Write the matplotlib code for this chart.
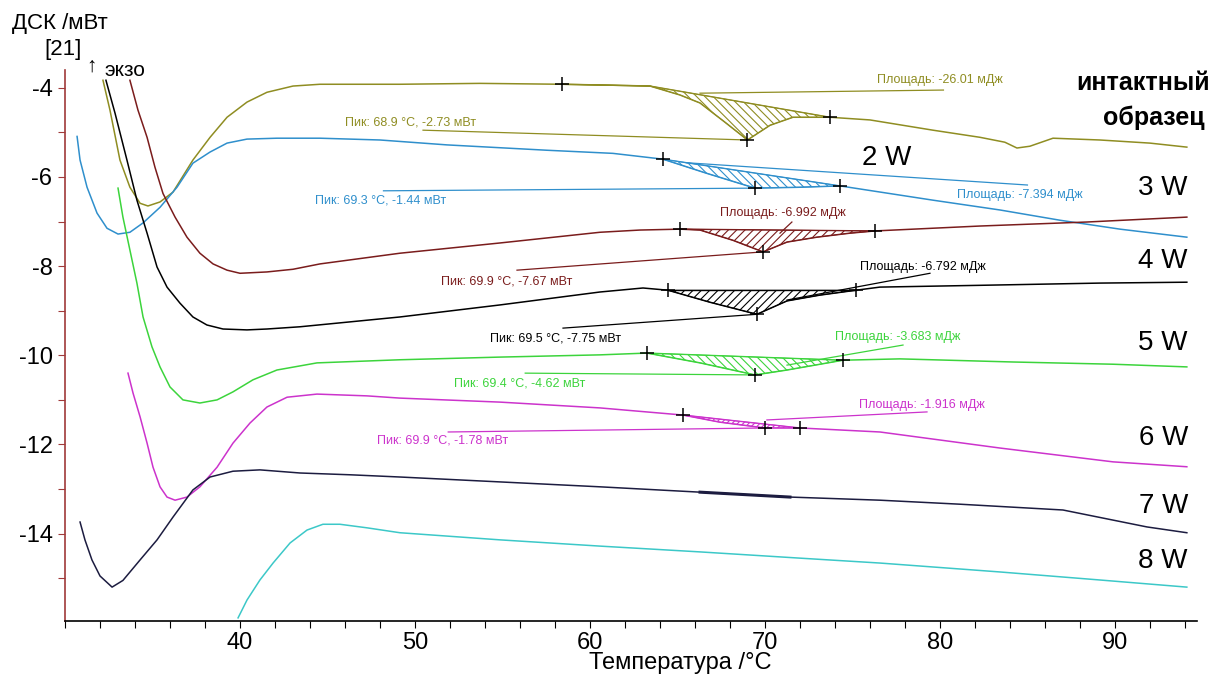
import matplotlib
matplotlib.use('Agg')
import matplotlib.pyplot as plt
from matplotlib.ticker import MultipleLocator

plt.rcParams['font.family'] = ['Liberation Sans', 'DejaVu Sans']
plt.rcParams['axes.unicode_minus'] = False
plt.rcParams['hatch.linewidth'] = 0.8

# ── DSC curves (temperature °C, heat flow mW) ───────────────────────────────
T_INT = [32.17, 32.57, 33.14, 33.71, 34.29, 34.74, 35.43, 36.17, 37.31, 38.29,
         39.26, 40.40, 41.54, 43.03, 44.57, 49.14, 53.71, 58.40, 61.14, 63.43,
         65.14, 66.29, 67.71, 69.00, 70.29, 71.60, 73.71, 76.00, 79.60, 82.29,
         83.71, 84.40, 85.14, 86.46, 89.14, 92.00, 94.11]
Y_INT = [-3.83, -4.50, -5.62, -6.23, -6.59, -6.65, -6.56, -6.34, -5.62, -5.11,
         -4.66, -4.32, -4.10, -3.96, -3.92, -3.92, -3.90, -3.92, -3.94, -3.96,
         -4.16, -4.34, -4.77, -5.17, -4.84, -4.66, -4.66, -4.72, -4.95, -5.11,
         -5.22, -5.35, -5.31, -5.13, -5.17, -5.24, -5.33]

T_2W = [30.69, 30.86, 31.26, 31.83, 32.40, 33.03, 33.71, 34.46, 35.43, 36.40,
        37.31, 38.29, 39.26, 40.40, 42.11, 44.57, 48.00, 51.83, 57.54, 61.31,
        64.17, 66.69, 69.43, 72.00, 74.29, 79.60, 83.43, 86.86, 90.29, 94.11]
Y_2W = [-5.09, -5.62, -6.23, -6.81, -7.15, -7.28, -7.24, -7.03, -6.68, -6.23,
        -5.69, -5.44, -5.24, -5.15, -5.13, -5.13, -5.17, -5.28, -5.40, -5.47,
        -5.60, -5.92, -6.25, -6.23, -6.20, -6.52, -6.74, -6.97, -7.17, -7.35]

T_3W = [33.71, 34.17, 34.69, 35.14, 35.60, 36.29, 36.97, 37.71, 38.46, 39.26,
        40.00, 41.54, 43.03, 44.57, 49.14, 54.86, 60.57, 62.86, 65.14, 66.29,
        68.17, 69.89, 71.26, 72.97, 74.86, 76.29, 82.29, 88.40, 94.11]
Y_3W = [-3.83, -4.50, -5.11, -5.78, -6.37, -6.90, -7.35, -7.71, -7.95, -8.09,
        -8.16, -8.13, -8.07, -7.95, -7.71, -7.48, -7.24, -7.19, -7.17, -7.19,
        -7.42, -7.68, -7.46, -7.35, -7.26, -7.21, -7.10, -7.01, -6.90]

T_4W = [32.34, 32.86, 33.54, 34.11, 34.69, 35.26, 35.83, 36.57, 37.31, 38.11,
        39.03, 40.40, 41.54, 43.43, 46.29, 49.14, 54.86, 60.57, 63.03, 64.46,
        66.86, 69.54, 71.26, 73.14, 75.20, 76.57, 82.29, 89.14, 94.11]
Y_4W = [-3.83, -4.57, -5.62, -6.52, -7.26, -8.02, -8.47, -8.83, -9.14, -9.32,
        -9.41, -9.43, -9.41, -9.36, -9.25, -9.14, -8.87, -8.58, -8.49, -8.54,
        -8.81, -9.08, -8.78, -8.65, -8.54, -8.47, -8.43, -8.38, -8.36]

T_5W = [33.03, 33.31, 33.71, 34.11, 34.46, 34.97, 35.43, 36.00, 36.74, 37.71,
        38.69, 39.60, 40.74, 42.11, 44.40, 49.14, 54.86, 60.57, 63.26, 66.29,
        69.43, 71.26, 74.46, 77.71, 84.17, 89.89, 94.11]
Y_5W = [-6.25, -6.90, -7.64, -8.38, -9.14, -9.81, -10.26, -10.71, -11.00, -11.07,
        -11.00, -10.82, -10.55, -10.33, -10.17, -10.10, -10.04, -9.99, -9.95, -10.17,
        -10.44, -10.33, -10.11, -10.08, -10.15, -10.20, -10.26]

T_6W = [33.60, 33.89, 34.29, 34.69, 35.03, 35.43, 35.83, 36.29, 36.97, 37.71,
        38.69, 39.60, 40.57, 41.54, 42.69, 44.40, 47.26, 49.14, 54.86, 60.57,
        65.31, 67.43, 70.00, 72.00, 76.57, 83.43, 89.89, 94.11]
Y_6W = [-10.40, -10.85, -11.38, -11.97, -12.51, -12.95, -13.18, -13.25, -13.18, -12.95,
        -12.51, -11.97, -11.52, -11.16, -10.94, -10.87, -10.91, -10.96, -11.05, -11.18,
        -11.34, -11.50, -11.63, -11.63, -11.72, -12.08, -12.39, -12.50]

T_7W = [30.86, 31.14, 31.54, 32.00, 32.69, 33.31, 34.29, 35.26, 36.17, 37.31,
        38.29, 39.60, 41.14, 43.43, 46.29, 49.14, 54.86, 60.57, 66.29, 71.43,
        76.57, 81.14, 87.03, 91.83, 94.11]
Y_7W = [-13.74, -14.14, -14.59, -14.95, -15.20, -15.05, -14.59, -14.14, -13.63, -13.02,
        -12.73, -12.60, -12.57, -12.64, -12.68, -12.73, -12.84, -12.95, -13.07, -13.18,
        -13.25, -13.34, -13.47, -13.85, -13.98]

T_8W = [39.89, 40.40, 41.14, 41.89, 42.86, 43.83, 44.74, 45.71, 47.26, 49.14,
        54.86, 60.57, 66.29, 72.00, 76.57, 83.43, 89.14, 94.11]
Y_8W = [-15.89, -15.49, -15.04, -14.66, -14.21, -13.92, -13.79, -13.79, -13.87, -13.98,
        -14.14, -14.28, -14.41, -14.55, -14.66, -14.86, -15.04, -15.20]

# peak evaluation points: start, peak, end
PK_T_INT, PK_Y_INT = [58.40, 69.00, 73.71], [-3.92, -5.17, -4.66]
PK_T_2W, PK_Y_2W = [64.17, 69.43, 74.29], [-5.60, -6.25, -6.20]
PK_T_3W, PK_Y_3W = [65.14, 69.89, 76.29], [-7.17, -7.68, -7.21]
PK_T_4W, PK_Y_4W = [64.46, 69.54, 75.20], [-8.54, -9.08, -8.54]
PK_T_5W, PK_Y_5W = [63.26, 69.43, 74.46], [-9.95, -10.44, -10.11]
PK_T_6W, PK_Y_6W = [65.31, 70.00, 72.00], [-11.34, -11.63, -11.63]

# sigmoid-like baseline of the intact sample
BL_T_INT, BL_Y_INT = [58.40, 63.43, 73.71], [-3.92, -3.96, -4.66]

PEAK_TXT = ['Пик: 68.9 °C, -2.73 мВт', 'Пик: 69.3 °C, -1.44 мВт',
            'Пик: 69.9 °C, -7.67 мВт', 'Пик: 69.5 °C, -7.75 мВт',
            'Пик: 69.4 °C, -4.62 мВт', 'Пик: 69.9 °C, -1.78 мВт']
AREA_TXT = ['Площадь: -26.01 мДж', 'Площадь: -7.394 мДж', 'Площадь: -6.992 мДж',
            'Площадь: -6.792 мДж', 'Площадь: -3.683 мДж', 'Площадь: -1.916 мДж']
NAMES = ['2 W', '3 W', '4 W', '5 W', '6 W', '7 W', '8 W']

# ── Colours ──────────────────────────────────────────────────────────────────
C_INT = '#8f8d22'
C_2W = '#2f8fcc'
C_3W = '#7a1c1c'
C_4W = '#000000'
C_5W = '#3cd43c'
C_6W = '#cc33cc'
C_7W = '#1c1c40'
C_8W = '#3cc8c8'
AX_RED = '#a03a3a'

W, H = 1213, 679
fig = plt.figure(figsize=(W / 100, H / 100), dpi=100)
fig.patch.set_facecolor('white')
ax = fig.add_axes([65 / W, 1 - 621 / H, 1132 / W, 551 / H])
ax.set_xlim(30, 94.69)
ax.set_ylim(-15.96, -3.60)

curves = [(T_INT, Y_INT, C_INT), (T_2W, Y_2W, C_2W), (T_3W, Y_3W, C_3W),
          (T_4W, Y_4W, C_4W), (T_5W, Y_5W, C_5W), (T_6W, Y_6W, C_6W),
          (T_7W, Y_7W, C_7W), (T_8W, Y_8W, C_8W)]
for t, y, c in curves:
    ax.plot(t, y, color=c, lw=1.1, zorder=3)

# small thickening on the 7 W trace around 70 °C
sel = [(a, b) for a, b in zip(T_7W, Y_7W) if 66 <= a <= 72]
ax.plot([p[0] for p in sel], [p[1] for p in sel], color=C_7W, lw=2.2, zorder=3)

# ── Peak areas, markers, leader lines and labels ───────────────────────────
peaks = [
    (T_INT, Y_INT, PK_T_INT, PK_Y_INT, BL_T_INT, BL_Y_INT, C_INT, '\\\\\\\\'),
    (T_2W, Y_2W, PK_T_2W, PK_Y_2W, None, None, C_2W, '\\\\\\\\'),
    (T_3W, Y_3W, PK_T_3W, PK_Y_3W, None, None, C_3W, '////'),
    (T_4W, Y_4W, PK_T_4W, PK_Y_4W, None, None, C_4W, '////'),
    (T_5W, Y_5W, PK_T_5W, PK_Y_5W, None, None, C_5W, '\\\\\\\\'),
    (T_6W, Y_6W, PK_T_6W, PK_Y_6W, None, None, C_6W, '//////'),
]
# label anchors (left x, y), peak-leader start, area-leader start/end
peak_lbl = [(46.0, -4.77), (44.29, -6.52), (51.5, -8.34),
            (54.29, -9.62), (52.23, -10.63), (47.83, -11.92)]
peak_lead = [(50.46, -4.95), (48.2, -6.31), (55.83, -8.09),
             (58.46, -9.39), (56.3, -10.40), (51.9, -11.72)]
area_lbl = [(76.4, -3.83), (81.0, -6.41), (67.43, -6.81),
            (75.43, -8.03), (74.0, -9.59), (75.37, -11.12)]
area_lead = [((66.29, -4.12), (80.2, -4.05)), ((65.5, -5.68), (85.0, -6.18)),
             ((70.86, -7.26), (71.54, -7.01)), ((71.26, -8.76), (79.43, -8.16)),
             ((71.26, -10.22), (77.89, -9.77)), ((70.11, -11.45), (79.26, -11.27))]

for i, (t, y, pt, py, bt, by, c, hatch) in enumerate(peaks):
    if bt is None:
        bt, by = [pt[0], pt[2]], [py[0], py[2]]
    seg = [(a, b) for a, b in zip(t, y) if pt[0] <= a <= pt[2]]
    poly_x = [p[0] for p in seg] + bt[::-1]
    poly_y = [p[1] for p in seg] + by[::-1]
    ax.fill(poly_x, poly_y, facecolor='none', edgecolor=c, hatch=hatch,
            lw=0.6, zorder=2)
    ax.plot(bt, by, color=c, lw=1.0, zorder=3)
    ax.plot(pt, py, ls='none', marker='+', ms=10, mew=1.1, color='black', zorder=5)
    # peak leader + label
    lx, ly = peak_lead[i]
    ax.plot([lx, pt[1]], [ly, py[1]], color=c, lw=0.9, zorder=3)
    ax.text(*peak_lbl[i], PEAK_TXT[i], color=c, fontsize=9, ha='left', va='center')
    # area leader + label
    (ax0, ay0), (ax1, ay1) = area_lead[i]
    ax.plot([ax0, ax1], [ay0, ay1], color=c, lw=0.9, zorder=3)
    ax.text(*area_lbl[i], AREA_TXT[i], color=c, fontsize=9, ha='left', va='center')

# ── Curve names on the right ────────────────────────────────────────────────
ax.text(95.43, -4.05, 'интактный', fontsize=18, fontweight='bold', ha='right',
        va='baseline', clip_on=False)
ax.text(95.15, -4.84, 'образец', fontsize=18, fontweight='bold', ha='right',
        va='baseline', clip_on=False)
ax.text(75.54, -5.73, NAMES[0], fontsize=20, ha='left', va='baseline')
name_y = [-6.41, -8.05, -9.88, -12.02, -13.54, -14.78]
for nm, yy in zip(NAMES[1:], name_y):
    ax.text(94.17, yy, nm, fontsize=20, ha='right', va='baseline', clip_on=False)

# ── Axes styling ─────────────────────────────────────────────────────────────
for s in ('top', 'right'):
    ax.spines[s].set_visible(False)
ax.spines['left'].set_color(AX_RED)
ax.spines['left'].set_linewidth(1.2)
ax.spines['bottom'].set_linewidth(1.2)

ax.set_xticks([40, 50, 60, 70, 80, 90])
ax.xaxis.set_minor_locator(MultipleLocator(2))
ax.set_yticks([-14, -12, -10, -8, -6, -4])
ax.yaxis.set_minor_locator(MultipleLocator(1))
ax.tick_params(axis='x', which='both', direction='out', length=5, width=0.8,
               labelsize=17, pad=3)
ax.tick_params(axis='y', which='both', direction='out', length=5, width=0.8,
               color=AX_RED, labelsize=17, pad=4)

ax.text((680 - 65) / 1132, -0.077, 'Температура /°C', transform=ax.transAxes,
        fontsize=17, ha='center', va='center')

fig.text(12 / W, 1 - 23 / H, 'ДСК /мВт', fontsize=16, ha='left', va='center')
fig.text(44 / W, 1 - 50 / H, '[21]', fontsize=16, ha='left', va='center')
fig.text(86 / W, 1 - 66 / H, '↑', fontsize=15, ha='left', va='center')
fig.text(104 / W, 1 - 71 / H, 'экзо', fontsize=15, ha='left', va='center')

fig.savefig('out.png', dpi=100, facecolor='white')
